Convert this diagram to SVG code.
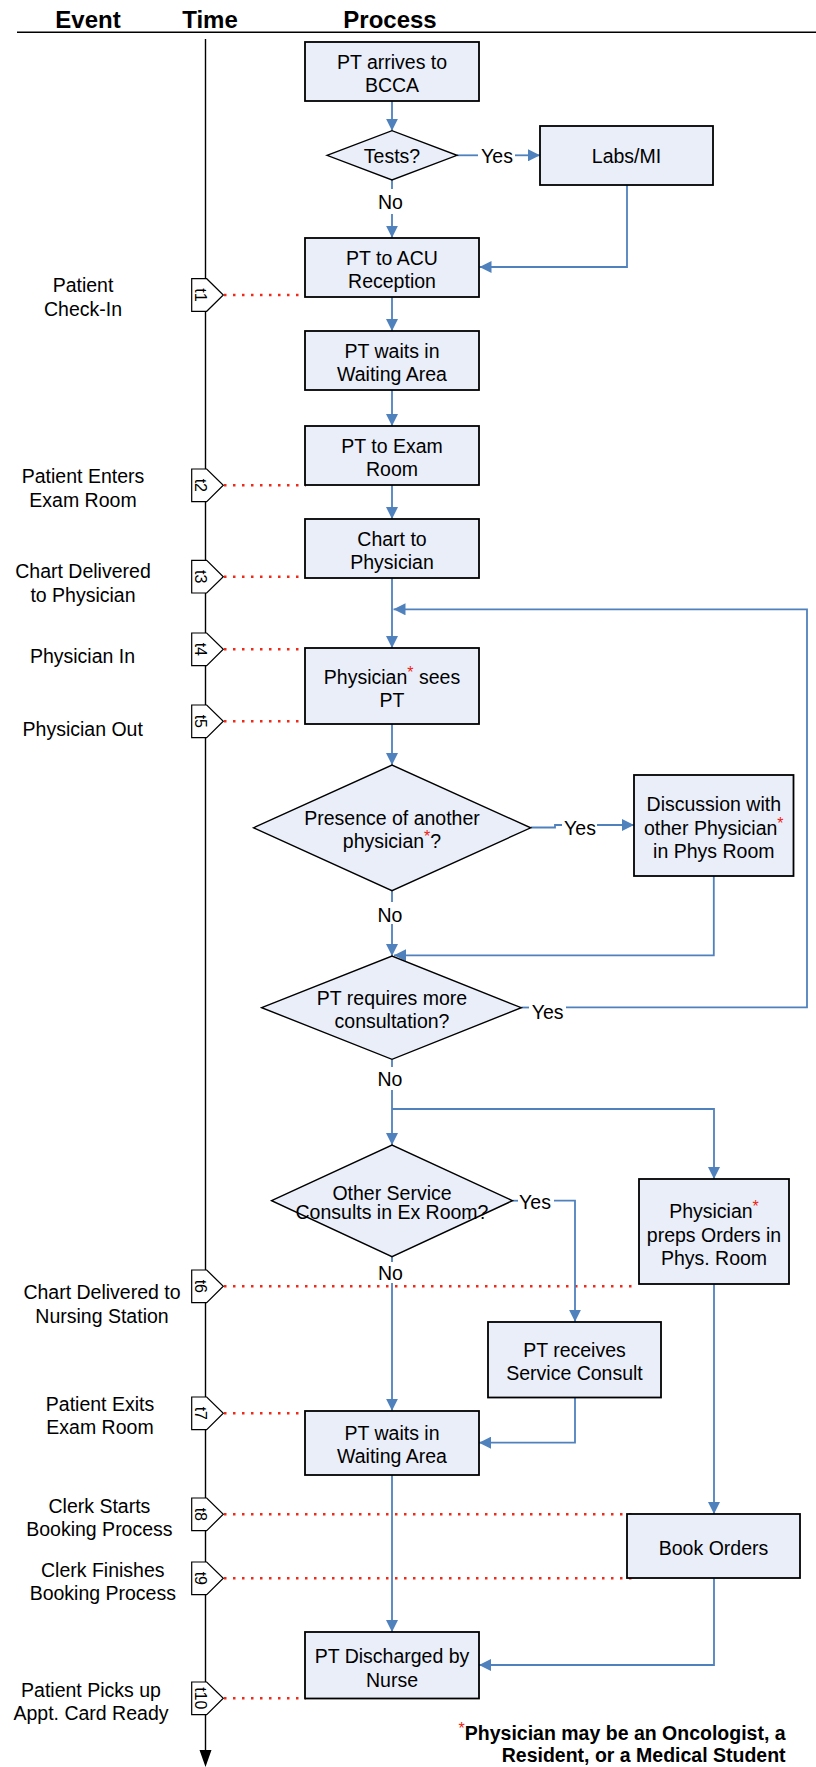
<svg xmlns="http://www.w3.org/2000/svg" width="816" height="1767" viewBox="0 0 816 1767">
<style>
text{font-family:"Liberation Sans",Arial,sans-serif;font-size:19.5px;fill:#000;text-anchor:middle}
.h{font-weight:bold;font-size:24px}
.box{fill:#E9EEF9;stroke:#000;stroke-width:1.8}
.dia{fill:#E9EEF9;stroke:#000;stroke-width:1.4}
.c{fill:none;stroke:#4F81BD;stroke-width:1.8}
.dot{fill:none;stroke:#F02A18;stroke-width:2.5;stroke-dasharray:2.5 6.5}
.mk{fill:#fff;stroke:#000;stroke-width:1.2}
.mt{font-size:16px}
.r{fill:#EE2211;font-size:16px}
</style>
<defs>
<marker id="a" markerUnits="userSpaceOnUse" markerWidth="12" markerHeight="12" refX="12" refY="6" orient="auto">
<path d="M0,0 L12,6 L0,12 z" fill="#4F81BD"/>
</marker>
</defs>

<g id="header">
<text class="h" x="88" y="28">Event</text>
<text class="h" x="210" y="28">Time</text>
<text class="h" x="390" y="28">Process</text>
<line x1="17" y1="32.3" x2="816" y2="32.3" stroke="#000" stroke-width="1.6"/>
</g>

<g id="timeline">
<line x1="205.5" y1="39" x2="205.5" y2="1752" stroke="#000" stroke-width="1.4"/>
<polygon points="199.5,1750 211.5,1750 205.5,1767" fill="#000"/>
</g>

<g id="dotted">
<path class="dot" d="M224,295 H306"/>
<path class="dot" d="M224,485.3 H306"/>
<path class="dot" d="M224,576.7 H306"/>
<path class="dot" d="M224,649.3 H306"/>
<path class="dot" d="M224,721.3 H306"/>
<path class="dot" d="M224,1286.3 H638"/>
<path class="dot" d="M224,1413.3 H306"/>
<path class="dot" d="M224,1514.3 H636"/>
<path class="dot" d="M224,1578.3 H636"/>
<path class="dot" d="M224,1698.3 H306"/>
</g>

<g id="markers">
<g id="m1"><polygon class="mk" points="191.7,278.7 206.7,278.7 223.3,295 206.7,311.3 191.7,311.3"/><text class="mt" transform="translate(200.5,295) rotate(90)" y="5.5">t1</text></g>
<g id="m2"><polygon class="mk" points="191.7,469 206.7,469 223.3,485.3 206.7,501.6 191.7,501.6"/><text class="mt" transform="translate(200.5,485.3) rotate(90)" y="5.5">t2</text></g>
<g id="m3"><polygon class="mk" points="191.7,560.4 206.7,560.4 223.3,576.7 206.7,593 191.7,593"/><text class="mt" transform="translate(200.5,576.7) rotate(90)" y="5.5">t3</text></g>
<g id="m4"><polygon class="mk" points="191.7,633 206.7,633 223.3,649.3 206.7,665.6 191.7,665.6"/><text class="mt" transform="translate(200.5,649.3) rotate(90)" y="5.5">t4</text></g>
<g id="m5"><polygon class="mk" points="191.7,705 206.7,705 223.3,721.3 206.7,737.6 191.7,737.6"/><text class="mt" transform="translate(200.5,721.3) rotate(90)" y="5.5">t5</text></g>
<g id="m6"><polygon class="mk" points="191.7,1270 206.7,1270 223.3,1286.3 206.7,1302.6 191.7,1302.6"/><text class="mt" transform="translate(200.5,1286.3) rotate(90)" y="5.5">t6</text></g>
<g id="m7"><polygon class="mk" points="191.7,1397 206.7,1397 223.3,1413.3 206.7,1429.6 191.7,1429.6"/><text class="mt" transform="translate(200.5,1413.3) rotate(90)" y="5.5">t7</text></g>
<g id="m8"><polygon class="mk" points="191.7,1498 206.7,1498 223.3,1514.3 206.7,1530.6 191.7,1530.6"/><text class="mt" transform="translate(200.5,1514.3) rotate(90)" y="5.5">t8</text></g>
<g id="m9"><polygon class="mk" points="191.7,1562 206.7,1562 223.3,1578.3 206.7,1594.6 191.7,1594.6"/><text class="mt" transform="translate(200.5,1578.3) rotate(90)" y="5.5">t9</text></g>
<g id="m10"><polygon class="mk" points="191.7,1682 206.7,1682 223.3,1698.3 206.7,1714.6 191.7,1714.6"/><text class="mt" transform="translate(200.5,1698.3) rotate(90)" y="5.5">t10</text></g>
</g>

<g id="events">
<text x="83" y="292.3">Patient</text><text x="83" y="315.7">Check-In</text>
<text x="83" y="483.3">Patient Enters</text><text x="83" y="506.7">Exam Room</text>
<text x="83" y="578.3">Chart Delivered</text><text x="83" y="601.7">to Physician</text>
<text x="82.5" y="663.3">Physician In</text>
<text x="82.7" y="736">Physician Out</text>
<text x="102" y="1299.3">Chart Delivered to</text><text x="102" y="1323.3">Nursing Station</text>
<text x="100" y="1410.7">Patient Exits</text><text x="100" y="1434.3">Exam Room</text>
<text x="99.4" y="1512.7">Clerk Starts</text><text x="99.4" y="1536">Booking Process</text>
<text x="102.8" y="1576.7">Clerk Finishes</text><text x="102.8" y="1600">Booking Process</text>
<text x="91" y="1696.7">Patient Picks up</text><text x="91" y="1720">Appt. Card Ready</text>
</g>

<g id="connectors">
<path class="c" d="M392,101 V130.7" marker-end="url(#a)"/>
<path class="c" d="M457,155.3 H478"/>
<path class="c" d="M515,155.3 H540" marker-end="url(#a)"/>
<path class="c" d="M392,180 V189"/>
<path class="c" d="M392,214 V237.7" marker-end="url(#a)"/>
<path class="c" d="M627,184.7 V267 H479.5" marker-end="url(#a)"/>
<path class="c" d="M392,297 V331" marker-end="url(#a)"/>
<path class="c" d="M392,390 V426" marker-end="url(#a)"/>
<path class="c" d="M392,485 V519" marker-end="url(#a)"/>
<path class="c" d="M392,578 V648" marker-end="url(#a)"/>
<path class="c" d="M392,723.7 V765" marker-end="url(#a)"/>
<path class="c" d="M530.7,827.5 H555 V825 H562"/>
<path class="c" d="M597,825 H634" marker-end="url(#a)"/>
<path class="c" d="M392,890.7 V902"/>
<path class="c" d="M392,924 V956" marker-end="url(#a)"/>
<path class="c" d="M713.8,875.7 V955.3 H394" marker-end="url(#a)"/>
<path class="c" d="M521.3,1007.5 H529"/>
<path class="c" d="M566,1007.3 H807 V609.3 H393.5" marker-end="url(#a)"/>
<path class="c" d="M392,1059.3 V1067"/>
<path class="c" d="M392,1090 V1145" marker-end="url(#a)"/>
<path class="c" d="M392,1109 H714 V1179" marker-end="url(#a)"/>
<path class="c" d="M512.5,1200.7 H518"/>
<path class="c" d="M554,1200.7 H575 V1321.7" marker-end="url(#a)"/>
<path class="c" d="M392,1256.7 V1262"/>
<path class="c" d="M392,1283 V1410.7" marker-end="url(#a)"/>
<path class="c" d="M575,1397.5 V1442.7 H479" marker-end="url(#a)"/>
<path class="c" d="M714,1284.3 V1514" marker-end="url(#a)"/>
<path class="c" d="M392,1475 V1632" marker-end="url(#a)"/>
<path class="c" d="M714,1578.3 V1665 H479" marker-end="url(#a)"/>
<text x="497" y="163.3">Yes</text>
<text x="390.5" y="209.3">No</text>
<text x="580" y="835">Yes</text>
<text x="390" y="921.5">No</text>
<text x="547.6" y="1019">Yes</text>
<text x="390" y="1086">No</text>
<text x="535" y="1209.3">Yes</text>
<text x="390.5" y="1280">No</text>
</g>

<g id="n1"><rect class="box" x="305" y="42" width="174" height="59"/><text x="392" y="69">PT arrives to</text><text x="392" y="92">BCCA</text></g>
<g id="d1"><polygon class="dia" points="327,155.3 392,130.7 457,155.3 392,180"/><text x="392" y="162.5">Tests?</text></g>
<g id="n2"><rect class="box" x="540" y="126" width="173" height="59"/><text x="626.5" y="162.5">Labs/MI</text></g>
<g id="n3"><rect class="box" x="305" y="238" width="174" height="59"/><text x="392" y="265">PT to ACU</text><text x="392" y="288">Reception</text></g>
<g id="n4"><rect class="box" x="305" y="331" width="174" height="59"/><text x="392" y="358">PT waits in</text><text x="392" y="381">Waiting Area</text></g>
<g id="n5"><rect class="box" x="305" y="426" width="174" height="59"/><text x="392" y="453">PT to Exam</text><text x="392" y="476">Room</text></g>
<g id="n6"><rect class="box" x="305" y="519" width="174" height="59"/><text x="392" y="546">Chart to</text><text x="392" y="569">Physician</text></g>
<g id="n7"><rect class="box" x="305" y="648" width="174" height="76"/><text x="392" y="683.5">Physician<tspan class="r" dy="-6">*</tspan><tspan dy="6"> sees</tspan></text><text x="392" y="706.5">PT</text></g>
<g id="d2"><polygon class="dia" points="253.5,827.8 392,765 530.7,827.8 392,890.7"/><text x="392" y="825">Presence of another</text><text x="392" y="848.3">physician<tspan class="r" dy="-6">*</tspan><tspan dy="6">?</tspan></text></g>
<g id="n8"><rect class="box" x="634" y="775" width="159.5" height="101"/><text x="713.8" y="811">Discussion with</text><text x="713.8" y="835">other Physician<tspan class="r" dy="-6">*</tspan></text><text x="713.8" y="858">in Phys Room</text></g>
<g id="d3"><polygon class="dia" points="261.7,1007.7 392,956 521.3,1007.7 392,1059.3"/><text x="392" y="1005">PT requires more</text><text x="392" y="1028.3">consultation?</text></g>
<g id="d4"><polygon class="dia" points="271.6,1200.7 392,1145 512.5,1200.7 392,1256.7"/><text x="392" y="1200" font-size="18.5">Other Service</text><text x="392" y="1219.3" font-size="18.5">Consults in Ex Room?</text></g>
<g id="n9"><rect class="box" x="639" y="1179" width="150" height="105"/><text x="714" y="1218.3">Physician<tspan class="r" dy="-6">*</tspan></text><text x="714" y="1241.7">preps Orders in</text><text x="714" y="1265">Phys. Room</text></g>
<g id="n10"><rect class="box" x="488" y="1322" width="173" height="75.5"/><text x="574.5" y="1357.3">PT receives</text><text x="574.5" y="1380">Service Consult</text></g>
<g id="n11"><rect class="box" x="305" y="1411" width="174" height="64"/><text x="392" y="1440">PT waits in</text><text x="392" y="1463.3">Waiting Area</text></g>
<g id="n12"><rect class="box" x="627" y="1514" width="173" height="64"/><text x="713.5" y="1555">Book Orders</text></g>
<g id="n13"><rect class="box" x="305" y="1632" width="174" height="66.5"/><text x="392" y="1663.3">PT Discharged by</text><text x="392" y="1686.7">Nurse</text></g>

<g id="footnote">
<text x="785.6" y="1739.5" style="text-anchor:end;font-weight:bold"><tspan class="r" dy="-6" style="font-weight:normal">*</tspan><tspan dy="6">Physician may be an Oncologist, a</tspan></text>
<text x="785.6" y="1761.5" style="text-anchor:end;font-weight:bold">Resident, or a Medical Student</text>
</g>
</svg>
